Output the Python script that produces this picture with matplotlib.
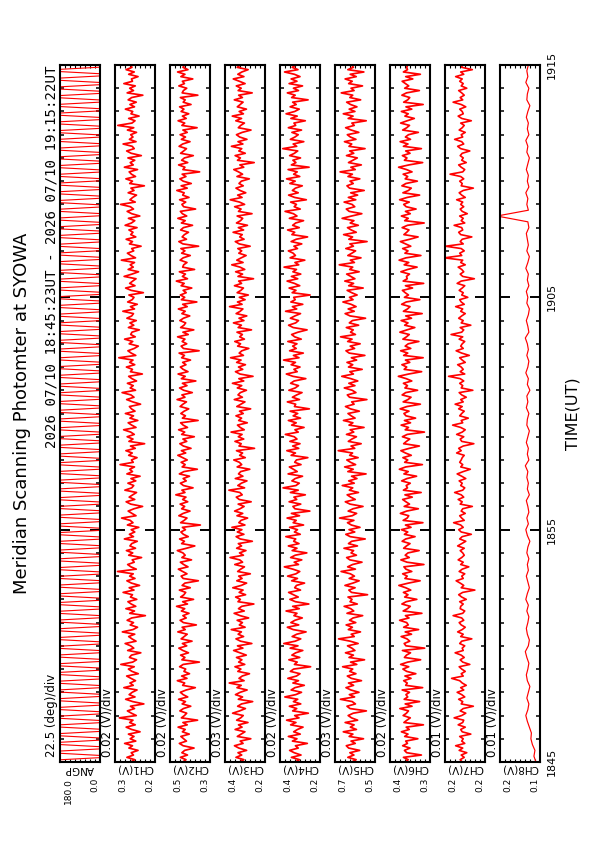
import numpy as np
import matplotlib.pyplot as plt

## text
title = "Meridian Scanning Photomter at SYOWA"
dateText = "2026 07/10 18:45:23UT - 2026 07/10 19:15:22UT"
timeLabel = "TIME(UT)"
timeTickMin = [0, 10, 20, 30]
timeTickLabels = ["1845", "1855", "1905", "1915"]

## panels: name, unit, lower value and value per division (8 divisions each)
panelNames = ["ANGP", "CH1(V)", "CH2(V)", "CH3(V)", "CH4(V)", "CH5(V)", "CH6(V)", "CH7(V)", "CH8(V)"]
panelUnits = ["deg", "V", "V", "V", "V", "V", "V", "V", "V"]
panelLow = [0.0, 0.17, 0.32, 0.18, 0.22, 0.48, 0.27, 0.16, 0.10]
panelDiv = [22.5, 0.02, 0.02, 0.03, 0.02, 0.03, 0.02, 0.01, 0.01]
# stored data -> plotted unit (angle in deg, channels in mV)
panelScale = [1.0, 0.001, 0.001, 0.001, 0.001, 0.001, 0.001, 0.001, 0.001]
# trace width per panel (CH8 is a thin, smooth trace)
panelLw = [0.8, 1.25, 1.25, 1.25, 1.25, 1.25, 1.25, 1.2, 0.85]

## scan angle (deg): sweep, then wait at the end of the meridian
angp = [180, 180, 0, 0, 180, 180, 0, 0, 180, 180, 0, 0, 180, 180, 0, 0, 180, 180, 0, 0,
        180, 180, 0, 0, 180, 180, 0, 0, 180, 180, 0, 0, 180, 180, 0, 0, 180, 180, 0, 0,
        180, 180, 0, 0, 180, 180, 0, 0, 180, 180, 0, 0, 180, 180, 0, 0, 180, 180, 0, 0,
        180, 180, 0, 0, 180, 180, 0, 0, 180, 180, 0, 0, 180, 180, 0, 0, 180, 180, 0, 0,
        180, 180, 0, 0, 180, 180, 0, 0, 180, 180, 0, 0, 180, 180, 0, 0, 180, 180, 0, 0,
        180, 180, 0, 0, 180, 180, 0, 0, 180, 180, 0, 0, 180, 180, 0, 0, 180, 180, 0, 0,
        180, 180, 0, 0, 180, 180, 0, 0, 180, 180, 0, 0, 180, 180, 0, 0, 180, 180, 0, 0,
        180, 180, 0, 0, 180, 180, 0, 0, 180, 180, 0, 0, 180, 180, 0, 0, 180, 180, 0, 0,
        180, 180, 0, 0, 180, 180, 0, 0, 180, 180, 0, 0, 180, 180, 0, 0, 180, 180, 0, 0,
        180, 180, 0, 0, 180, 180, 0, 0, 180, 180, 0, 0, 180, 180, 0, 0, 180, 180, 0, 0,
        180, 180, 0, 0, 180, 180, 0, 0, 180, 180, 0, 0, 180, 180, 0, 0, 180, 180, 0, 0,
        180, 180, 0, 0, 180, 180, 0, 0, 180, 180, 0, 0, 180, 180, 0, 0, 180, 180, 0, 0,
        180, 180, 0, 0, 180, 180, 0, 0, 180, 180, 0, 0, 180, 180, 0, 0, 180, 180, 0, 0,
        180, 180, 0, 0, 180, 180, 0, 0, 180, 180, 0, 0, 180, 180, 0, 0, 180, 180, 0, 0,
        180, 180, 0, 0, 180, 180, 0, 0, 180, 180, 0, 0, 180, 180, 0, 0, 180, 180, 0, 0,
        180, 180, 0, 0, 180, 180, 0, 0, 180, 180, 0, 0, 180, 180, 0, 0, 180, 180, 0, 0]

## photometer channels (mV), one value every 6 s (CH8 every 15 s)
ch1 = [266, 250, 281, 255, 264, 237, 273, 259, 290, 246,
       268, 253, 275, 229, 262, 284, 248, 270, 257, 311,
       244, 263, 279, 251, 267, 214, 258, 286, 249, 272,
       260, 241, 293, 256, 269, 247, 265, 282, 236, 261,
       275, 252, 305, 258, 243, 271, 263, 226, 278, 254,
       266, 288, 245, 261, 274, 250, 299, 257, 239, 268,
       255, 280, 262, 208, 270, 251, 285, 246, 264, 277,
       242, 267, 259, 296, 253, 272, 231, 263, 281, 249,
       270, 256, 318, 244, 265, 278, 252, 260, 223, 274,
       258, 283, 247, 269, 262, 240, 291, 255, 271, 250,
       264, 234, 279, 257, 268, 302, 245, 261, 276, 253,
       219, 266, 284, 250, 272, 258, 243, 289, 262, 254,
       277, 246, 265, 229, 281, 259, 270, 251, 308, 256,
       263, 241, 274, 260, 285, 248, 267, 211, 273, 257,
       280, 252, 266, 294, 245, 262, 276, 238, 269, 255,
       287, 249, 263, 271, 227, 258, 282, 253, 265, 300,
       247, 268, 256, 279, 243, 261, 274, 220, 267, 259,
       283, 250, 270, 257, 313, 246, 264, 277, 252, 236,
       272, 258, 290, 248, 266, 261, 232, 275, 254, 269,
       244, 281, 262, 255, 297, 251, 267, 240, 278, 260,
       253, 273, 216, 264, 286, 249, 270, 258, 245, 292,
       261, 235, 276, 256, 268, 251, 303, 247, 265, 279,
       254, 262, 225, 271, 259, 284, 246, 266, 257, 273,
       241, 288, 263, 250, 275, 230, 262, 280, 255, 267,
       306, 248, 269, 258, 243, 276, 253, 265, 212, 270,
       259, 285, 247, 263, 272, 239, 291, 256, 268, 250,
       277, 224, 264, 282, 252, 260, 296, 245, 271, 257,
       266, 243, 279, 254, 317, 261, 249, 274, 233, 265,
       258, 287, 251, 269, 244, 276, 262, 218, 280, 255,
       270, 248, 293, 259, 263, 237, 274, 252, 284, 261,
       266]
ch2 = [428, 415, 437, 409, 431, 420, 383, 426, 441, 413,
       424, 435, 402, 429, 418, 446, 410, 427, 369, 433,
       421, 412, 439, 425, 396, 430, 417, 444, 408, 426,
       437, 414, 378, 428, 420, 449, 411, 432, 401, 423,
       416, 440, 426, 362, 431, 419, 436, 405, 427, 443,
       412, 429, 391, 434, 422, 410, 447, 418, 430, 374,
       425, 438, 414, 427, 403, 433, 420, 452, 409, 428,
       385, 436, 423, 416, 441, 398, 430, 419, 366, 426,
       434, 411, 428, 445, 407, 424, 437, 393, 431, 418,
       427, 449, 413, 380, 432, 421, 440, 406, 425, 435,
       417, 429, 358, 436, 422, 411, 443, 426, 399, 432,
       420, 438, 408, 428, 415, 455, 419, 431, 387, 425,
       437, 414, 426, 401, 441, 423, 370, 430, 418, 434,
       410, 428, 447, 416, 433, 395, 425, 439, 412, 427,
       382, 432, 420, 444, 409, 426, 436, 367, 429, 417,
       435, 422, 404, 438, 427, 413, 450, 419, 431, 390,
       424, 440, 411, 429, 376, 433, 418, 446, 407, 426,
       437, 415, 428, 397, 432, 421, 442, 363, 425, 434,
       412, 430, 419, 448, 406, 427, 384, 436, 423, 416,
       439, 425, 400, 431, 418, 445, 410, 428, 372, 433,
       420, 437, 414, 426, 392, 434, 422, 453, 409, 429,
       417, 441, 381, 428, 424, 411, 438, 426, 398, 432,
       419, 435, 365, 427, 443, 413, 430, 421, 405, 436,
       425, 389, 433, 418, 447, 412, 429, 437, 377, 424,
       431, 416, 440, 403, 428, 422, 451, 410, 434, 394,
       426, 439, 415, 430, 361, 427, 419, 444, 408, 432,
       421, 386, 436, 424, 413, 442, 428, 399, 433, 417,
       438, 410, 427, 371, 431, 420, 446, 414, 429, 404,
       434, 423, 440, 395, 426, 418, 437, 368, 430, 425,
       412, 443, 421, 429, 388, 435, 419, 448, 407, 427,
       420]
ch3 = [331, 305, 352, 318, 340, 289, 335, 361, 310, 327,
       264, 344, 322, 299, 357, 316, 337, 281, 348, 324,
       309, 372, 330, 296, 342, 319, 253, 338, 313, 355,
       327, 286, 346, 321, 392, 304, 334, 315, 272, 341,
       323, 358, 300, 336, 317, 349, 291, 329, 366, 311,
       343, 258, 325, 352, 307, 339, 320, 380, 298, 332,
       314, 345, 277, 328, 363, 303, 337, 318, 246, 340,
       326, 354, 295, 333, 310, 371, 321, 289, 347, 316,
       336, 267, 342, 324, 302, 359, 313, 330, 387, 308,
       331, 293, 348, 319, 338, 255, 327, 351, 305, 344,
       317, 376, 299, 335, 322, 283, 346, 312, 360, 328,
       304, 339, 262, 333, 350, 315, 329, 394, 301, 341,
       320, 287, 356, 311, 337, 324, 270, 345, 318, 332,
       365, 297, 330, 313, 349, 242, 334, 321, 358, 306,
       338, 316, 381, 303, 327, 343, 285, 336, 319, 352,
       309, 331, 265, 347, 323, 299, 362, 314, 340, 326,
       290, 344, 318, 373, 306, 335, 251, 329, 355, 312,
       337, 296, 348, 322, 384, 308, 333, 317, 276, 342,
       325, 359, 302, 330, 314, 346, 260, 339, 320, 367,
       305, 334, 288, 351, 327, 311, 390, 316, 343, 298,
       332, 279, 345, 323, 308, 361, 319, 336, 248, 340,
       313, 354, 300, 328, 377, 310, 347, 321, 292, 335,
       318, 341, 268, 333, 356, 304, 330, 315, 369, 307,
       338, 284, 349, 325, 312, 345, 257, 337, 322, 360,
       301, 331, 386, 316, 342, 294, 328, 352, 309, 334,
       320, 273, 346, 313, 337, 365, 306, 329, 244, 343,
       326, 357, 297, 335, 318, 379, 311, 340, 287, 330,
       349, 315, 263, 338, 324, 302, 353, 319, 374, 308,
       333, 290, 344, 327, 310, 362, 314, 336, 256, 339,
       321, 350, 298, 332, 368, 305, 341, 317, 280, 345,
       326]
ch4 = [318, 301, 333, 295, 322, 340, 306, 317, 270, 329,
       311, 345, 298, 324, 309, 287, 336, 315, 352, 303,
       320, 266, 328, 312, 341, 296, 325, 308, 359, 316,
       293, 334, 319, 282, 327, 305, 347, 313, 299, 337,
       324, 257, 321, 310, 343, 300, 331, 316, 288, 338,
       307, 363, 318, 296, 330, 312, 275, 326, 349, 304,
       335, 319, 290, 323, 311, 354, 302, 328, 264, 317,
       339, 306, 325, 344, 297, 320, 313, 281, 332, 309,
       348, 315, 300, 327, 361, 305, 322, 292, 336, 318,
       272, 330, 311, 345, 303, 324, 316, 355, 298, 321,
       309, 340, 285, 326, 314, 350, 301, 333, 260, 319,
       327, 296, 342, 312, 323, 278, 337, 306, 366, 315,
       302, 331, 318, 289, 346, 310, 325, 341, 295, 320,
       313, 268, 334, 317, 351, 304, 328, 299, 339, 311,
       322, 357, 306, 319, 283, 332, 314, 345, 297, 326,
       308, 338, 262, 321, 316, 349, 301, 329, 312, 291,
       343, 318, 305, 336, 322, 276, 327, 353, 310, 323,
       299, 334, 317, 364, 303, 325, 286, 340, 314, 328,
       311, 347, 294, 320, 332, 307, 271, 326, 344, 316,
       305, 337, 319, 297, 356, 312, 329, 288, 335, 318,
       324, 259, 330, 315, 342, 300, 321, 350, 308, 333,
       296, 327, 313, 362, 304, 319, 280, 338, 317, 326,
       345, 309, 323, 292, 334, 314, 269, 331, 320, 348,
       302, 328, 316, 285, 341, 311, 325, 358, 298, 322,
       313, 336, 274, 320, 344, 306, 329, 317, 290, 339,
       318, 352, 300, 324, 310, 346, 263, 333, 315, 327,
       297, 340, 321, 308, 367, 312, 326, 284, 337, 319,
       306, 331, 293, 345, 316, 323, 278, 335, 310, 354,
       320, 302, 338, 314, 328, 267, 332, 318, 349, 305,
       325, 289, 342, 311, 334, 299, 321, 360, 307, 330,
       315]
ch5 = [618, 592, 641, 605, 629, 571, 636, 650, 597, 622,
       548, 633, 611, 668, 590, 626, 604, 657, 583, 619,
       639, 609, 531, 628, 646, 596, 615, 685, 601, 632,
       575, 623, 652, 607, 637, 560, 620, 644, 593, 630,
       612, 672, 588, 625, 542, 634, 608, 655, 599, 617,
       643, 580, 627, 696, 603, 621, 566, 638, 614, 651,
       594, 631, 610, 553, 646, 606, 624, 663, 585, 628,
       616, 640, 524, 619, 635, 598, 658, 611, 574, 633,
       602, 626, 681, 596, 642, 613, 557, 629, 648, 590,
       622, 607, 664, 584, 637, 618, 538, 627, 653, 600,
       634, 569, 620, 643, 605, 690, 615, 589, 639, 610,
       551, 628, 656, 597, 624, 645, 578, 632, 612, 674,
       603, 636, 587, 619, 533, 641, 609, 660, 595, 625,
       647, 580, 630, 613, 698, 600, 622, 562, 638, 617,
       590, 649, 606, 627, 545, 634, 611, 667, 598, 621,
       640, 573, 626, 655, 604, 618, 528, 631, 644, 593,
       615, 662, 599, 635, 582, 623, 677, 608, 629, 556,
       637, 612, 646, 589, 620, 540, 633, 652, 601, 627,
       568, 642, 616, 684, 596, 625, 609, 650, 577, 632,
       614, 536, 628, 657, 603, 639, 592, 622, 670, 610,
       631, 586, 618, 645, 550, 636, 607, 659, 599, 624,
       648, 574, 630, 612, 692, 602, 626, 563, 641, 617,
       595, 653, 608, 629, 527, 635, 613, 666, 591, 621,
       643, 579, 627, 605, 675, 619, 558, 633, 650, 600,
       616, 663, 594, 638, 583, 624, 544, 631, 646, 609,
       628, 570, 640, 614, 687, 597, 623, 561, 637, 611,
       585, 649, 606, 630, 539, 634, 618, 661, 593, 626,
       644, 576, 621, 654, 603, 617, 532, 639, 610, 668,
       599, 633, 587, 625, 648, 565, 629, 612, 680, 604,
       622, 554, 636, 615, 657, 591, 627, 546, 641, 608,
       619]
ch6 = [367, 356, 375, 304, 362, 371, 349, 378, 359, 366,
       318, 370, 357, 383, 352, 364, 296, 373, 361, 348,
       376, 363, 355, 389, 341, 368, 311, 372, 358, 365,
       351, 380, 299, 366, 360, 374, 345, 369, 326, 362,
       377, 354, 386, 358, 307, 371, 363, 347, 379, 291,
       365, 372, 350, 361, 384, 343, 368, 315, 374, 356,
       362, 390, 353, 367, 302, 376, 359, 348, 381, 364,
       322, 370, 357, 375, 346, 366, 393, 355, 309, 369,
       360, 378, 342, 365, 373, 294, 361, 385, 352, 368,
       357, 313, 374, 363, 349, 380, 366, 329, 371, 358,
       383, 345, 367, 298, 376, 360, 354, 387, 362, 316,
       372, 351, 365, 378, 340, 369, 305, 375, 359, 364,
       348, 382, 361, 323, 373, 356, 391, 366, 300, 370,
       358, 377, 344, 367, 385, 352, 312, 374, 363, 350,
       379, 360, 292, 368, 355, 384, 347, 371, 327, 365,
       373, 353, 388, 361, 308, 376, 357, 345, 380, 366,
       319, 369, 359, 375, 342, 364, 395, 354, 303, 372,
       362, 381, 350, 367, 297, 374, 358, 386, 346, 368,
       356, 314, 377, 363, 352, 389, 361, 330, 370, 357,
       384, 343, 366, 301, 375, 359, 349, 382, 364, 310,
       371, 355, 368, 379, 339, 367, 295, 376, 360, 363,
       351, 385, 358, 321, 372, 354, 392, 365, 306, 369,
       357, 378, 346, 366, 387, 350, 317, 373, 362, 353,
       380, 359, 293, 370, 356, 383, 348, 367, 325, 364,
       374, 352, 390, 360, 311, 377, 355, 344, 381, 365,
       320, 368, 358, 376, 341, 363, 394, 353, 299, 371,
       361, 379, 349, 366, 304, 375, 357, 388, 347, 367,
       355, 316, 378, 362, 351, 386, 360, 332, 369, 356,
       383, 342, 365, 297, 374, 358, 350, 381, 363, 312,
       370, 354, 367, 380, 338, 366, 308, 375, 359, 362,
       358]
ch7 = [205, 209, 201, 207, 196, 211, 204, 218, 200, 206,
       203, 210, 188, 205, 208, 199, 213, 204, 202, 221,
       206, 198, 209, 203, 183, 207, 204, 212, 200, 206,
       215, 202, 208, 197, 205, 210, 226, 203, 207, 199,
       206, 211, 190, 204, 209, 201, 207, 219, 203, 205,
       200, 210, 206, 186, 208, 203, 214, 205, 199, 207,
       211, 202, 206, 223, 204, 200, 209, 208, 203, 210,
       197, 206, 212, 204, 180, 207, 202, 209, 217, 203,
       206, 200, 211, 205, 192, 208, 203, 213, 206, 201,
       204, 209, 201, 214, 206, 198, 210, 205, 187, 207,
       212, 203, 208, 222, 201, 206, 210, 199, 207, 204,
       185, 209, 205, 213, 202, 207, 220, 204, 200, 208,
       205, 211, 198, 206, 215, 203, 189, 208, 204, 210,
       207, 205, 201, 216, 207, 212, 203, 182, 206, 209,
       202, 216, 205, 199, 208, 224, 204, 207, 193, 210,
       206, 201, 212, 205, 219, 203, 208, 197, 206, 211,
       184, 207, 204, 210, 202, 209, 232, 200, 209, 203,
       207, 214, 199, 205, 210, 191, 206, 217, 203, 208,
       205, 200, 211, 204, 227, 206, 202, 209, 188, 207,
       203, 212, 206, 199, 208, 204, 218, 201, 207, 210,
       194, 206, 203, 211, 205, 200, 215, 207, 181, 204,
       209, 202, 206, 213, 199, 208, 204, 240, 206, 210,
       201, 207, 238, 203, 209, 205, 186, 208, 212, 204,
       206, 221, 200, 207, 203, 210, 195, 205, 209, 202,
       208, 204, 216, 199, 206, 211, 203, 183, 207, 205,
       210, 202, 208, 229, 204, 200, 207, 212, 197, 206,
       203, 209, 205, 190, 208, 214, 202, 206, 220, 204,
       207, 199, 211, 205, 201, 208, 187, 206, 213, 203,
       205, 210, 198, 207, 223, 204, 209, 201, 206, 212,
       196, 207, 203, 210, 205, 218, 202, 208, 185, 206,
       205]
ch8 = [108, 112, 110, 115, 118, 117, 121, 125, 128, 124,
       122, 126, 123, 120, 125, 127, 124, 122, 126, 129,
       123, 121, 125, 127, 124, 122, 126, 123, 128, 125,
       121, 124, 127, 123, 125, 122, 126, 124, 120, 125,
       128, 123, 126, 122, 124, 127, 121, 125, 123, 126,
       124, 129, 122, 125, 123, 127, 124, 121, 126, 125,
       122, 127, 124, 126, 120, 125, 123, 128, 124, 122,
       126, 123, 125, 129, 122, 124, 127, 123, 121, 126,
       124, 127, 122, 125, 123, 128, 124, 121, 126, 123,
       125, 127, 122, 124, 185, 123, 126, 124, 128, 122,
       125, 123, 127, 124, 121, 126, 124, 128, 122, 125,
       123, 127, 124, 120, 126, 125, 122, 128, 124, 126,
       123]

panelData = [angp, ch1, ch2, ch3, ch4, ch5, ch6, ch7, ch8]

## layout in pixels (portrait page, plot turned 90 deg)
W, H = 595, 842
x0First = 59.5
pitch = 55.0
pw = 40.5
yTop = 65.0
yBot = 762.0
tSpan = 30.0


def figxy(x, y):
    return x / W, 1 - y / H


def timeToY(tm):
    return yBot - (yBot - yTop) * tm / tSpan


plt.rcParams['font.family'] = 'DejaVu Sans'

fig = plt.figure(figsize=(W / 100, H / 100), dpi=100)

for i, (name, unit, low, div, scale, lw, raw) in enumerate(
        zip(panelNames, panelUnits, panelLow, panelDiv, panelScale, panelLw, panelData)):
    x0 = x0First + i * pitch
    high = low + 8 * div
    vals = np.asarray(raw, dtype=float) * scale
    ax = fig.add_axes([x0 / W, 1 - yBot / H, pw / W, (yBot - yTop) / H])
    t = np.linspace(0, tSpan, len(vals))
    ax.plot(vals, t, color='red', lw=lw)
    ax.set_xlim(high, low)
    ax.set_ylim(0, tSpan)

    ax.set_xticks(low + div * np.arange(1, 8))
    ax.set_yticks([10, 20])
    ax.set_yticks(np.arange(0, 31), minor=True)
    ax.tick_params(axis='x', which='both', direction='in', top=True, bottom=True,
                   length=2.5, width=0.8, labelbottom=False, labeltop=False)
    ax.tick_params(axis='y', which='major', direction='in', left=True, right=True,
                   length=7.5, width=1.4, labelleft=False, labelright=False)
    ax.tick_params(axis='y', which='minor', direction='in', left=True, right=True,
                   length=2.8, width=1.1)
    for sp in ax.spines.values():
        sp.set_linewidth(1.5)

    # channel name (upside down) and range labels under the panel
    fig.text(*figxy(x0 + pw / 2, 769), name, rotation=180, ha='center', va='center', fontsize=7.5)
    fig.text(*figxy(x0 + 4, 778), f"{high:.1f}", rotation=90, ha='left', va='top', fontsize=6.5)
    fig.text(*figxy(x0 + pw - 1, 778), f"{low:.1f}", rotation=90, ha='right', va='top', fontsize=6.5)
    # scale per division, left of the panel
    fig.text(*figxy(x0 - 7.5, 757), f"{div:g} ({unit})/div", rotation=90, ha='center', va='bottom', fontsize=8.5)

# time labels right of the last panel
for tm, lab in zip(timeTickMin, timeTickLabels):
    fig.text(*figxy(552, timeToY(tm)), lab, rotation=90, ha='center', va='center', fontsize=8)
fig.text(*figxy(573, (yTop + yBot) / 2), timeLabel, rotation=90, ha='center', va='center', fontsize=11.5)

fig.text(*figxy(22, (yTop + yBot) / 2), title, rotation=90, ha='center', va='center', fontsize=13)
fig.text(*figxy(51.5, yTop), dateText, rotation=90, ha='center', va='top', fontsize=10.2,
         family='DejaVu Sans Mono')

fig.savefig('out.png', dpi=100)
